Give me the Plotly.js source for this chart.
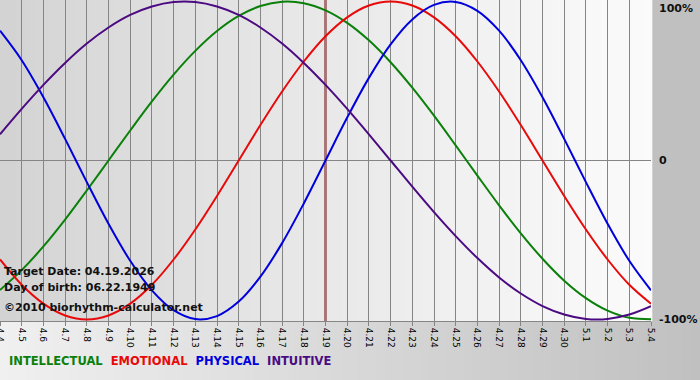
<!DOCTYPE html>
<html>
<head>
<meta charset="utf-8">
<script src="https://cdn.plot.ly/plotly-3.0.1.min.js"></script>
<style>html,body{margin:0;padding:0;background:#c0c0c0;}#chart{width:700px;height:380px;}</style>
</head>
<body>
<div id="chart"></div>
<script>
// ---- data ----
const dates = ['4.4','4.5','4.6','4.7','4.8','4.9','4.10','4.11','4.12','4.13','4.14','4.15','4.16','4.17','4.18','4.19','4.20','4.21','4.22','4.23','4.24','4.25','4.26','4.27','4.28','4.29','4.30','5.1','5.2','5.3','5.4'];
const intellectual = [-0.815,-0.690,-0.541,-0.372,-0.189,0.000,0.189,0.372,0.541,0.690,0.815,0.910,0.972,0.999,0.990,0.945,0.866,0.756,0.618,0.458,0.282,0.095,-0.095,-0.282,-0.458,-0.618,-0.756,-0.866,-0.945,-0.990,-0.999];
const emotional = [-0.623,-0.782,-0.901,-0.975,-1.000,-0.975,-0.901,-0.782,-0.623,-0.434,-0.223,0.000,0.223,0.434,0.623,0.782,0.901,0.975,1.000,0.975,0.901,0.782,0.623,0.434,0.223,0.000,-0.223,-0.434,-0.623,-0.782,-0.901];
const physical = [0.817,0.631,0.398,0.136,-0.136,-0.398,-0.631,-0.817,-0.942,-0.998,-0.979,-0.888,-0.731,-0.520,-0.270,0.000,0.270,0.520,0.731,0.888,0.979,0.998,0.942,0.817,0.631,0.398,0.136,-0.136,-0.398,-0.631,-0.817];
const intuitive = [0.165,0.325,0.476,0.614,0.736,0.837,0.916,0.969,0.997,0.997,0.969,0.916,0.837,0.736,0.614,0.476,0.325,0.165,0.000,-0.165,-0.325,-0.476,-0.614,-0.736,-0.837,-0.916,-0.969,-0.997,-0.997,-0.969,-0.916];
const seriesNames = ['INTELLECTUAL','EMOTIONAL','PHYSICAL','INTUITIVE'];
const seriesColors = ['#0a800a','#e80a0a','#0000dd','#4b0a82'];
const yTickVals = [1, 0, -1];
const yTickText = ['100%', '0', '-100%'];
const targetDate = '4.19';
const infoLines = ['Target Date: 04.19.2026', 'Day of birth: 06.22.1949', '\u00a92010 biorhythm-calculator.net'];

// ---- chart ----
const allSeries = [intellectual, emotional, physical, intuitive];
const traces = allSeries.map((vals, i) => ({
  type: 'scatter', mode: 'lines', x: dates, y: vals, name: seriesNames[i],
  line: {color: seriesColors[i], width: 2, shape: 'spline', smoothing: 1},
  hoverinfo: 'skip'
}));

const W = 700, H = 380, mL = 0, mR = 49, mT = 0, mB = 59;
const pw = W - mL - mR, ph = H - mT - mB;
const shapes = [];
function hex(v){ v = Math.max(0, Math.min(255, Math.round(v))); const s = v.toString(16).padStart(2,'0'); return '#' + s + s + s; }
// plot-area horizontal gradient
const N = 80;
for (let k = 0; k < N; k++) {
  const t = (k + 0.5) / N;
  shapes.push({type:'rect', xref:'paper', yref:'paper', x0:k/N, x1:(k+1)/N + 0.002, y0:0, y1:1,
    fillcolor: hex(0xd2 + (0xfb - 0xd2) * Math.pow(t, 0.85)), line:{width:0}, layer:'below'});
}
// bottom margin gradient
const xR = W / pw, yB = -mB / ph;
for (let k = 0; k < N; k++) {
  const t = (k + 0.5) / N;
  shapes.push({type:'rect', xref:'paper', yref:'paper', x0:k/N*xR, x1:(k+1)/N*xR + 0.002, y0:yB - 0.01, y1:0,
    fillcolor: hex(0xf0 + (0xc0 - 0xf0) * t), line:{width:0}, layer:'below'});
}
// target date marker
const tIdx = dates.indexOf(targetDate);
shapes.push({type:'line', xref:'x', yref:'paper', x0:tIdx, x1:tIdx, y0:0, y1:1,
  line:{color:'#6a0808', width:2}, layer:'between'});

const annotations = [];
const infoY = [271, 287, 307];
infoLines.forEach((txt, i) => annotations.push({
  text: txt, xref:'paper', yref:'paper', x: 0, xshift: 2, xanchor:'left',
  y: (ph - infoY[i]) / ph, yanchor:'middle', showarrow:false,
  font:{family:'DejaVu Sans', size:11, color:'#111', weight:'bold'}
}));
// right axis labels
yTickVals.forEach((v, i) => annotations.push({
  text: yTickText[i], xref:'paper', yref:'y', x: 1, xshift: 6, xanchor:'left',
  y: v, yanchor: i === 0 ? 'top' : 'middle', yshift: i === 0 ? 2 : 0, showarrow:false,
  font:{family:'DejaVu Sans', size:11, color:'#111', weight:'bold'}
}));
// legend text
annotations.push({
  text: seriesNames.map((n, i) => '<span style="color:' + seriesColors[i] + '">' + n + '</span>').join('&nbsp;&nbsp;'),
  xref:'paper', yref:'paper', x: 7 / pw, xanchor:'left', y: (ph - 361) / ph, yanchor:'middle', showarrow:false,
  font:{family:'DejaVu Sans', size:11.5, weight:'bold'}
});

const layout = {
  width: W, height: H,
  margin: {l: mL, r: mR, t: mT, b: mB, pad: 0},
  paper_bgcolor: '#c0c0c0', plot_bgcolor: 'rgba(0,0,0,0)',
  showlegend: false,
  xaxis: {
    type: 'category', categoryorder: 'array', categoryarray: dates,
    range: [0, dates.length - 1], fixedrange: true,
    showgrid: true, gridcolor: '#858585', gridwidth: 1,
    showline: true, linecolor: '#858585', linewidth: 1,
    ticks: 'outside', ticklen: 4, tickcolor: '#858585',
    tickangle: 90, tickfont: {family: 'DejaVu Sans', size: 9, color: '#000'},
    zeroline: false
  },
  yaxis: {
    range: [-1.01, 1.01], fixedrange: true,
    showgrid: false, showticklabels: false,
    zeroline: true, zerolinecolor: '#858585', zerolinewidth: 1,
    showline: false, ticks: ''
  },
  shapes: shapes,
  annotations: annotations
};
Plotly.newPlot('chart', traces, layout, {staticPlot: true, displayModeBar: false});
</script>
</body>
</html>
